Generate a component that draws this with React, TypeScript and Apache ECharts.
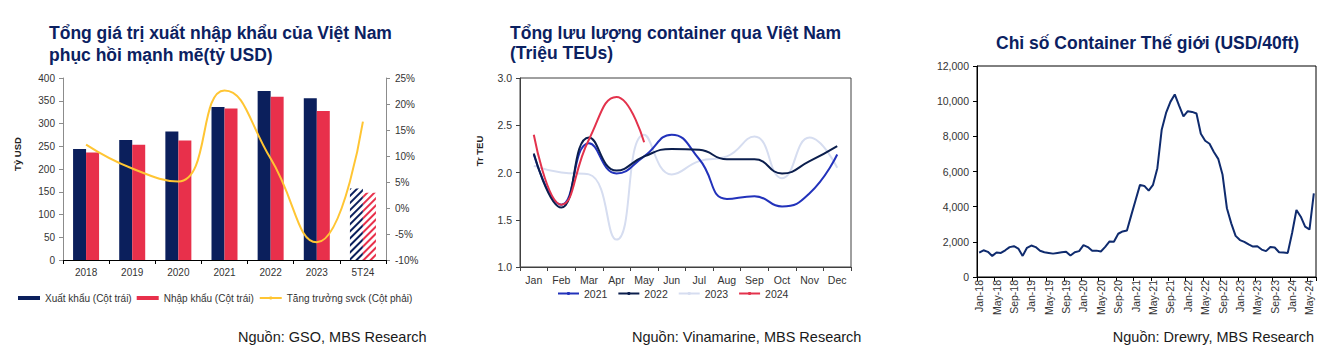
import React, { useEffect, useRef } from 'react';
import * as echarts from 'echarts';

// ---------- Chart 1: Vietnam import/export ----------
const years = ['2018', '2019', '2020', '2021', '2022', '2023', '5T24'];
const exportsVal = [244, 264, 282.6, 336.3, 371.3, 355.5, 157];
const importsVal = [236.5, 253.5, 262.8, 332.9, 358.9, 327.5, 148];
const growthPct = [12.2, 7.6, 5.1, 22.6, 9.5, -6.6, 16.6];
const partialIndex = 6; // 5T24 is partial-year (hatched)

// ---------- Chart 2: container throughput ----------
const months = ['Jan', 'Feb', 'Mar', 'Apr', 'May', 'Jun', 'Jul', 'Aug', 'Sep', 'Oct', 'Nov', 'Dec'];
const teu2021 = [2.19, 1.66, 2.31, 1.99, 2.17, 2.4, 2.14, 1.72, 1.75, 1.64, 1.78, 2.19];
const teu2022 = [2.2, 1.63, 2.37, 2.02, 2.17, 2.25, 2.24, 2.14, 2.14, 1.99, 2.12, 2.28];
const teu2023 = [2.07, 2.0, 1.98, 1.29, 2.4, 1.98, 2.12, 2.17, 2.38, 1.94, 2.37, 2.05];
const teu2024 = [2.4, 1.66, 2.35, 2.8, 2.32];

// ---------- Chart 3: World Container Index ----------
const wciYears = ['18', '19', '20', '21', '22', '23', '24'];
const wciMonthCount = 78; // Jan-18 .. Jun-24
const wciValues = [
  1390, 1520, 1430, 1200, 1390, 1370, 1520, 1700, 1750, 1620, 1200, 1660,
  1790, 1700, 1490, 1410, 1370, 1330, 1370, 1410, 1430, 1220, 1410, 1470,
  1810, 1700, 1490, 1500, 1450, 1710, 2020, 2000, 2460, 2590, 2650, 3520,
  4380, 5240, 5180, 4910, 5240, 6190, 8380, 9330, 9960, 10380, 9750, 9140,
  9430, 9390, 9300, 8150, 7750, 7580, 7110, 6720, 5810, 3910, 3050, 2340,
  2100, 2000, 1850, 1730, 1750, 1560, 1470, 1710, 1680, 1410, 1390, 1370,
  2500, 3810, 3430, 2860, 2700, 4760,
];
const wciLabels: string[] = [];
for (const y of wciYears) {
  for (const m of months) {
    if (wciLabels.length < wciMonthCount) wciLabels.push(m + '-' + y);
  }
}

const FONT = '"Liberation Sans", Arial, sans-serif';
const NAVY = '#0b1f5c';
const RED = '#e8304b';
const YELLOW = '#ffc533';
const TITLE = '#0b2161';
const TXT = '#333333';

const hatch = (color: string) => ({
  color: '#ffffff',
  decal: {
    symbol: 'rect',
    symbolSize: 1,
    color,
    dashArrayX: [1, 0],
    dashArrayY: [1.6, 2.6],
    rotation: -Math.PI / 4,
  },
});

export default function App() {
  const ref = useRef<HTMLDivElement>(null);

  useEffect(() => {
    if (!ref.current) return;
    const chart = echarts.init(ref.current, null, { renderer: 'svg' });

    const axisLbl = (size: number, extra: any = {}) => ({
      color: TXT,
      fontSize: size,
      fontFamily: FONT,
      ...extra,
    });

    const option: any = {
      animation: false,
      backgroundColor: '#ffffff',
      textStyle: { fontFamily: FONT },
      grid: [
        { left: 63, top: 78, width: 323, height: 182, outerBoundsMode: 'none' },
        { left: 520, top: 78, width: 331, height: 189, show: true, borderColor: '#404040', borderWidth: 1, backgroundColor: 'transparent', outerBoundsMode: 'none' },
        { left: 977, top: 66, width: 339, height: 211, show: true, borderColor: '#000000', borderWidth: 1, backgroundColor: 'transparent', outerBoundsMode: 'none' },
      ],
      xAxis: [
        {
          type: 'category',
          gridIndex: 0,
          data: years,
          boundaryGap: true,
          axisLine: { show: true, lineStyle: { color: '#000', width: 1 } },
          axisTick: { show: true, length: 4, lineStyle: { color: '#000' } },
          axisLabel: axisLbl(10, { margin: 7 }),
          splitLine: { show: false },
        },
        {
          type: 'category',
          gridIndex: 1,
          data: months,
          boundaryGap: true,
          axisLine: { show: true, lineStyle: { color: '#404040', width: 1 } },
          axisTick: { show: true, length: 4, lineStyle: { color: '#404040' } },
          axisLabel: axisLbl(10.5, { margin: 7 }),
          splitLine: { show: false },
        },
        {
          type: 'category',
          gridIndex: 2,
          data: wciLabels,
          boundaryGap: true,
          axisLine: { show: true, lineStyle: { color: '#000', width: 1 } },
          axisTick: { show: true, length: 4, interval: 3, lineStyle: { color: '#000' } },
          axisLabel: axisLbl(10.5, { interval: 3, rotate: 90, margin: 3 }),
          splitLine: { show: false },
        },
      ],
      yAxis: [
        {
          type: 'value',
          gridIndex: 0,
          min: 0,
          max: 400,
          interval: 50,
          axisLine: { show: true, lineStyle: { color: '#8c8c8c' } },
          axisTick: { show: true, length: 4, lineStyle: { color: '#8c8c8c' } },
          axisLabel: axisLbl(10, { margin: 8 }),
          splitLine: { show: false },
        },
        {
          type: 'value',
          gridIndex: 0,
          position: 'right',
          min: -10,
          max: 25,
          interval: 5,
          axisLine: { show: true, lineStyle: { color: '#8c8c8c' } },
          axisTick: { show: true, length: 4, lineStyle: { color: '#8c8c8c' } },
          axisLabel: axisLbl(10, { margin: 9, formatter: '{value}%' }),
          splitLine: { show: false },
        },
        {
          type: 'value',
          gridIndex: 1,
          min: 1,
          max: 3,
          interval: 0.5,
          axisLine: { show: true, lineStyle: { color: '#404040' } },
          axisTick: { show: true, length: 4, lineStyle: { color: '#404040' } },
          axisLabel: axisLbl(10.5, { margin: 8, formatter: (v: number) => v.toFixed(1) }),
          splitLine: { show: false },
        },
        {
          type: 'value',
          gridIndex: 2,
          min: 0,
          max: 12000,
          interval: 2000,
          axisLine: { show: true, lineStyle: { color: '#000' } },
          axisTick: { show: true, length: 4, lineStyle: { color: '#000' } },
          axisLabel: axisLbl(10.5, { margin: 8, formatter: (v: number) => v.toLocaleString('en-US') }),
          splitLine: { show: false },
        },
      ],
      legend: [
        {
          left: 18,
          top: 293,
          padding: 0,
          itemWidth: 22,
          itemHeight: 4,
          itemGap: 5,
          textStyle: { color: TXT, fontSize: 10, fontFamily: FONT },
          data: [
            { name: 'Xuất khẩu (Cột trái)', icon: 'rect' },
            { name: 'Nhập khẩu (Cột trái)', icon: 'rect' },
            { name: 'Tăng trưởng svck (Cột phải)' },
          ],
        },
        {
          left: 557,
          top: 288,
          padding: 0,
          itemWidth: 21,
          itemHeight: 4,
          itemGap: 10,
          textStyle: { color: TXT, fontSize: 10.5, fontFamily: FONT },
          data: ['2021', '2022', '2023', '2024'],
        },
      ],
      series: [
        {
          name: 'Xuất khẩu (Cột trái)',
          type: 'bar',
          xAxisIndex: 0,
          yAxisIndex: 0,
          barWidth: 13,
          barGap: '0%',
          itemStyle: { color: NAVY },
          data: exportsVal.map((v, i) => (i === partialIndex ? { value: v, itemStyle: hatch(NAVY) } : v)),
        },
        {
          name: 'Nhập khẩu (Cột trái)',
          type: 'bar',
          xAxisIndex: 0,
          yAxisIndex: 0,
          barWidth: 13,
          barGap: '0%',
          itemStyle: { color: RED },
          data: importsVal.map((v, i) => (i === partialIndex ? { value: v, itemStyle: hatch(RED) } : v)),
        },
        {
          name: 'Tăng trưởng svck (Cột phải)',
          type: 'line',
          xAxisIndex: 0,
          yAxisIndex: 1,
          smooth: 0.5,
          symbol: 'none',
          lineStyle: { color: YELLOW, width: 2 },
          itemStyle: { color: YELLOW },
          data: growthPct,
          z: 5,
        },
        {
          name: '2021',
          type: 'line',
          xAxisIndex: 1,
          yAxisIndex: 2,
          smooth: 0.5,
          symbol: 'none',
          lineStyle: { color: '#2232bb', width: 2 },
          itemStyle: { color: '#2232bb' },
          data: teu2021,
        },
        {
          name: '2022',
          type: 'line',
          xAxisIndex: 1,
          yAxisIndex: 2,
          smooth: 0.5,
          symbol: 'none',
          lineStyle: { color: '#0b1e4d', width: 2 },
          itemStyle: { color: '#0b1e4d' },
          data: teu2022,
        },
        {
          name: '2023',
          type: 'line',
          xAxisIndex: 1,
          yAxisIndex: 2,
          smooth: 0.5,
          symbol: 'none',
          lineStyle: { color: '#d6ddf0', width: 2 },
          itemStyle: { color: '#d6ddf0' },
          data: teu2023,
          z: 1,
        },
        {
          name: '2024',
          type: 'line',
          xAxisIndex: 1,
          yAxisIndex: 2,
          smooth: 0.5,
          symbol: 'none',
          lineStyle: { color: '#e3324c', width: 2 },
          itemStyle: { color: '#e3324c' },
          data: teu2024,
        },
        {
          name: 'Chỉ số Container Thế giới',
          type: 'line',
          xAxisIndex: 2,
          yAxisIndex: 3,
          symbol: 'none',
          lineStyle: { color: '#0f2b6e', width: 2 },
          itemStyle: { color: '#0f2b6e' },
          data: wciValues,
        },
      ],
      graphic: [
        ...[
          { t: 'Tổng giá trị xuất nhập khẩu của Việt Nam', x: 49, y: 33 },
          { t: 'phục hồi mạnh mẽ(tỷ USD)', x: 49, y: 55 },
          { t: 'Tổng lưu lượng container qua Việt Nam', x: 510, y: 33 },
          { t: '(Triệu TEUs)', x: 510, y: 53 },
          { t: 'Chỉ số Container Thế giới (USD/40ft)', x: 996, y: 43 },
        ].map((o) => ({
          type: 'text',
          x: o.x,
          y: o.y,
          style: {
            text: o.t,
            fill: TITLE,
            fontSize: 17.5,
            fontWeight: 'bold',
            fontFamily: FONT,
            align: 'left',
            verticalAlign: 'middle',
          },
        })),
        ...[
          { t: 'Nguồn: GSO, MBS Research', x: 238, align: 'left' },
          { t: 'Nguồn: Vinamarine, MBS Research', x: 632, align: 'left' },
          { t: 'Nguồn: Drewry, MBS Research', x: 1314, align: 'right' },
        ].map((o) => ({
          type: 'text',
          x: o.x,
          y: 337,
          style: {
            text: o.t,
            fill: '#1a1a1a',
            fontSize: 14.5,
            fontFamily: FONT,
            align: o.align,
            verticalAlign: 'middle',
          },
        })),
        ...[
          { t: 'Tỷ USD', x: 17.5, y: 154 },
          { t: 'Tr TEU', x: 479, y: 151 },
        ].map((o) => ({
          type: 'text',
          x: o.x,
          y: o.y,
          rotation: Math.PI / 2,
          style: {
            text: o.t,
            fill: '#222',
            fontSize: 9.5,
            fontWeight: 'bold',
            fontFamily: FONT,
            align: 'center',
            verticalAlign: 'middle',
          },
        })),
      ],
    };

    chart.setOption(option);
    return () => chart.dispose();
  }, []);

  return (
    <div
      ref={ref}
      style={{ position: 'absolute', left: 0, top: 0, width: 1341, height: 362, background: '#fff' }}
    />
  );
}
